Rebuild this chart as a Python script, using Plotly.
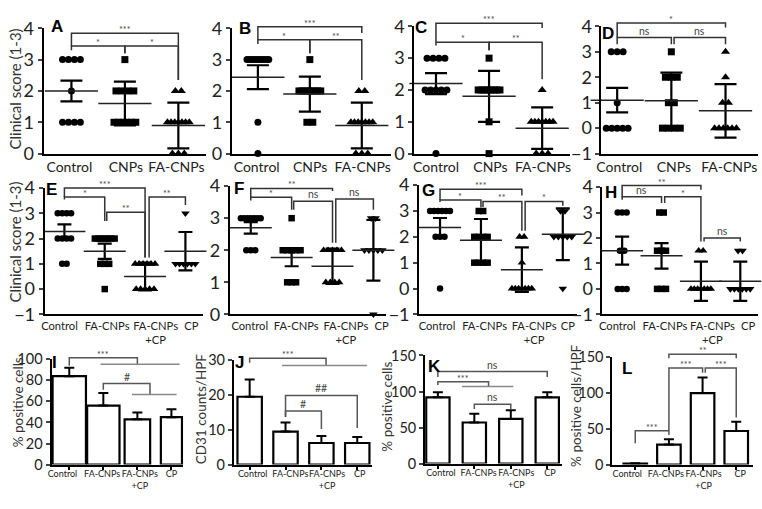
import plotly.graph_objects as go

W, H = 762, 509
FONT = "Lato"

# ---------------- data ----------------
row1_groups = ["Control", "CNPs", "FA-CNPs"]
row2_groups = ["Control", "FA-CNPs", "FA-CNPs<br>+CP", "CP"]
score4_ticks = [0, 1, 2, 3, 4]
score5_ticks = [-1, 0, 1, 2, 3, 4]

a_control = [3, 3, 3, 3, 2, 1, 1, 1, 1]
a_cnps = [3, 2, 2, 2, 2, 1, 1, 1, 1, 1, 1]
a_facnps = [2, 2, 1, 1, 1, 1, 1, 1, 1, 0, 0, 0]
a_mean = [2.0, 1.6, 0.9]
a_err = [0.33, 0.7, 0.73]

b_control = [3, 3, 3, 3, 3, 3, 3, 3, 3, 1, 0]
b_cnps = [3, 2, 2, 2, 2, 2, 2, 2, 2, 1, 1]
b_facnps = [2, 2, 1, 1, 1, 1, 1, 1, 1, 0, 0, 0]
b_mean = [2.44, 1.9, 0.9]
b_err = [0.38, 0.56, 0.73]

c_control = [3, 3, 3, 3, 2, 2, 2, 2, 2, 0]
c_cnps = [3, 2, 2, 2, 2, 2, 2, 2, 2, 1, 0]
c_facnps = [2, 1, 1, 1, 1, 1, 1, 1, 0, 0, 0]
c_mean = [2.2, 1.8, 0.8]
c_err = [0.33, 0.8, 0.65]

d_control = [3, 3, 3, 1, 0, 0, 0, 0, 0]
d_cnps = [3, 2, 2, 2, 1, 1, 0, 0, 0, 0]
d_facnps = [3, 2, 1, 1, 0, 0, 0, 0, 0, 0]
d_mean = [1.1, 1.08, 0.68]
d_err = [0.48, 1.1, 1.05]

e_control = [3, 3, 3, 3, 2, 2, 2, 2, 1, 1]
e_facnps = [2, 2, 2, 2, 2, 2, 2, 1, 1, 1, 0]
e_facnps_cp = [1, 1, 1, 1, 1, 1, 0, 0, 0, 0, 0]
e_cp = [3, 1, 1, 1, 1, 1, 1]
e_mean = [2.28, 1.5, 0.5, 1.5]
e_err = [0.28, 0.3, 0.55, 0.76]

f_control = [3, 3, 3, 3, 3, 3, 3, 2, 2, 2]
f_facnps = [3, 2, 2, 2, 2, 2, 1, 1, 1]
f_facnps_cp = [2, 2, 2, 2, 2, 1, 1, 1, 1]
f_cp = [3, 3, 2, 2, 2, 2, 2, 0]
f_mean = [2.7, 1.77, 1.5, 2.0]
f_err = [0.18, 0.27, 0.55, 0.95]

g_control = [3, 3, 3, 3, 3, 3, 2, 2, 2, 0]
g_facnps = [3, 3, 2, 2, 2, 2, 1, 1, 1, 1]
g_facnps_cp = [2, 2, 1, 0, 0, 0, 0, 0, 0, 0]
g_cp = [3, 3, 2, 2, 2, 2, 2, 0]
g_mean = [2.36, 1.87, 0.73, 2.1]
g_err = [0.37, 0.82, 0.86, 1.0]

h_control = [3, 3, 3, 1.5, 1.5, 0, 0, 0]
h_facnps = [3, 3, 1.5, 1.5, 1.5, 0, 0, 0]
h_facnps_cp = [1.5, 1.5, 0, 0, 0, 0, 0, 0, 0]
h_cp = [1.5, 1.5, 0, 0, 0, 0, 0, 0]
h_mean = [1.5, 1.3, 0.3, 0.3]
h_err = [0.55, 0.5, 0.77, 0.77]

i_values = [84, 56, 43, 45]
i_err = [8, 12, 6.5, 7.5]
i_ticks = [0, 20, 40, 60, 80, 100]

j_values = [19.5, 9.5, 6.2, 6.2]
j_err = [5, 2.6, 2, 1.7]
j_ticks = [0, 10, 20, 30]

k_values = [92, 57, 62, 92]
k_err = [7, 12, 12, 7]
k_ticks = [0, 50, 100, 150]

l_values = [1.5, 28, 100, 47]
l_err = [0.5, 7.5, 22, 13]
l_ticks = [0, 50, 100, 150]

# significance brackets: (x_left, x_right, height, left end, right end, label)
a_br = [(0, 2, 3.84, 3.43, 2.35, "***"), (0, 1, 3.43, 3.3, 3.2, "*"), (1, 2, 3.43, 3.2, 2.35, "*")]
b_br = [(0, 2, 4.05, 3.63, 3.85, "***"), (0, 1, 3.63, 3.5, 3.2, "*"), (1, 2, 3.63, 3.2, 2.35, "**")]
c_br = [(0, 2, 4.1, 3.5, 3.95, "***"), (0, 1, 3.5, 3.4, 3.25, "*"), (1, 2, 3.5, 3.25, 2.34, "**")]
d_br = [(0, 2, 4.13, 3.56, 3.95, "*"), (0, 1, 3.56, 3.3, 3.3, "ns"), (1.05, 2, 3.56, 3.3, 3.3, "ns")]
e_br = [(0, 2, 4.0, 3.65, 1.25, "***"), (0, 1, 3.65, 3.55, 2.7, "*"),
        (1.05, 2, 3.04, 2.7, 1.25, "**"), (2.1, 3, 3.65, 1.25, 3.33, "**")]
f_br = [(0, 2, 3.93, 3.65, 3.85, "**"), (0, 1, 3.65, 3.55, 3.26, "*"),
        (1.05, 2, 3.53, 3.26, 2.23, "ns"), (2.08, 3, 3.6, 2.23, 3.26, "ns")]
g_br = [(0, 2, 3.84, 3.43, 3.6, "***"), (0, 1, 3.43, 3.35, 3.16, "*"),
        (1.05, 2, 3.37, 3.16, 2.24, "**"), (2.08, 3, 3.37, 2.24, 3.2, "*")]
h_br = [(0, 2, 4.06, 3.62, 3.9, "**"), (0, 1, 3.62, 3.5, 3.37, "ns"),
        (1.08, 2, 3.62, 3.37, 1.86, "*"), (2.08, 3, 2.0, 1.86, 1.86, "ns")]
i_br = [(0, 2, 101.5, 94, 95.4, "***"), (1, 2.37, 77, 71, 66.5, "#")]
j_br = [(0, 2.13, 30.6, 29.3, 28.5, "***"), (1, 3, 19.9, 13.7, 10.5, "##"), (1, 2, 15.4, 13.7, 10.2, "#")]
k_br = [(0, 3, 127.7, 120, 120, "ns"), (0, 1.39, 113.5, 109, 107, "***"), (1, 2, 82.3, 75.7, 75.7, "ns")]
l_br = [(1, 3, 154.5, 148.7, 148.7, "**"), (1, 2, 135, 48, 128.5, "***"),
        (2.08, 3, 135, 128.5, 66, "***"), (0, 1, 47.3, 30, 41.5, "***")]
# group lines that the brackets point at: (x_left, x_right, height)
i_span = [(0.92, 3.24, 95.4), (1.84, 3.15, 66.5)]
j_span = [(0.9, 3.27, 28.5)]
k_span = [(0.66, 2.07, 107)]

# ---------------- panels ----------------
# box = (left px, right px, top px, bottom px); xl = tick label centres in px
panels = [
    dict(tag="A", row=1, groups=row1_groups, data=[a_control, a_cnps, a_facnps], mean=a_mean, err=a_err,
         box=(39, 203, 17, 148), xr=(-0.52, 2.52), yr=(0, 4), yt=score4_ticks, br=a_br, lab=(52, 15),
         xl=(65, 122, 173)),
    dict(tag="B", row=1, groups=row1_groups, data=[b_control, b_cnps, b_facnps], mean=b_mean, err=b_err,
         box=(229, 390, 17, 148), xr=(-0.5, 2.57), yr=(0, 4), yt=score4_ticks, br=b_br, lab=(242, 17),
         xl=(254, 308, 361)),
    dict(tag="C", row=1, groups=row1_groups, data=[c_control, c_cnps, c_facnps], mean=c_mean, err=c_err,
         box=(413, 570, 15, 148), xr=(-0.41, 2.52), yr=(0, 4), yt=score4_ticks, br=c_br, lab=(420, 16),
         xl=(435, 490, 543)),
    dict(tag="D", row=1, groups=row1_groups, data=[d_control, d_cnps, d_facnps], mean=d_mean, err=d_err,
         box=(602, 760, 15, 148), xr=(-0.29, 2.6), yr=(-1, 4), yt=score5_ticks, br=d_br, lab=(609, 22),
         xl=(620, 675, 731)),
    dict(tag="E", row=2, groups=row2_groups, data=[e_control, e_facnps, e_facnps_cp, e_cp], mean=e_mean, err=e_err,
         box=(40, 200, 184, 316), xr=(-0.49, 3.44), yr=(-1, 4), yt=score5_ticks, br=e_br, lab=(47, 186),
         xl=(55, 103, 152, 188)),
    dict(tag="F", row=2, groups=row2_groups, data=[f_control, f_facnps, f_facnps_cp, f_cp], mean=f_mean, err=f_err,
         box=(227, 385, 182, 316), xr=(-0.51, 3.32), yr=(0, 4), yt=score4_ticks, br=f_br, lab=(236, 184),
         xl=(247, 294, 344, 380)),
    dict(tag="G", row=2, groups=row2_groups, data=[g_control, g_facnps, g_facnps_cp, g_cp], mean=g_mean, err=g_err,
         box=(418, 577, 181, 316), xr=(-0.51, 3.34), yr=(-1, 4), yt=score5_ticks, br=g_br, lab=(427, 187),
         xl=(436, 484, 534, 568)),
    dict(tag="H", row=2, groups=row2_groups, data=[h_control, h_facnps, h_facnps_cp, h_cp], mean=h_mean, err=h_err,
         box=(603, 760, 183, 316), xr=(-0.5, 3.45), yr=(-1, 4), yt=score5_ticks, br=h_br, lab=(612, 189),
         xl=(618, 666, 714, 750)),
    dict(tag="I", row=3, groups=row2_groups, data=i_values, err=i_err, bw=[0.98, 0.95, 0.75, 0.62],
         box=(47, 180, 363, 473), xr=(-0.52, 3.35), yr=(0, 100), yt=i_ticks, br=i_br, span=i_span, lab=(50, 366),
         xl=(58, 98, 136, 168)),
    dict(tag="J", row=3, groups=row2_groups, data=j_values, err=j_err, bw=0.68,
         box=(231, 370, 364, 473), xr=(-0.44, 3.4), yr=(0, 30), yt=j_ticks, br=j_br, span=j_span, lab=(237, 366),
         xl=(250, 288, 325, 358)),
    dict(tag="K", row=3, groups=row2_groups, data=k_values, err=k_err, bw=0.64,
         box=(424, 562, 359, 472), xr=(-0.35, 3.4), yr=(0, 150), yt=k_ticks, br=k_br, span=k_span, lab=(433, 370),
         xl=(440, 478, 516, 550)),
    dict(tag="L", row=3, groups=row2_groups, data=l_values, err=l_err, bw=0.7,
         box=(613, 755, 361, 473), xr=(-0.68, 3.5), yr=(0, 150), yt=l_ticks, br=l_br, lab=(628, 373),
         xl=(628, 667, 705, 742)),
]

STYLE = {
    1: dict(step=6, span=22, size=7, mean_len=38, cap=11, xfont=14, yfont=18),
    2: dict(step=4.5, span=20, size=6.5, mean_len=30, cap=7, xfont=11.2, yfont=18),
    3: dict(xfont=9, yfont=14.5),
}
SYMBOLS = ["circle", "square", "triangle-up", "triangle-down"]


def spread(values, center, step, width):
    counts = {}
    for v in values:
        counts[v] = counts.get(v, 0) + 1
    seen, xs = {}, []
    for v in values:
        k = counts[v]
        i = seen.get(v, 0)
        seen[v] = i + 1
        s = step if k < 2 else min(step, width / (k - 1))
        xs.append(center + (i - (k - 1) / 2) * s)
    return xs


def to_paper(p, x, y):
    x0, x1, yt, yb = p["box"]
    xr, yr = p["xr"], p["yr"]
    px = x0 + (x - xr[0]) / (xr[1] - xr[0]) * (x1 - x0)
    py = yb - (y - yr[0]) / (yr[1] - yr[0]) * (yb - yt)
    return px / W, 1 - py / H


fig = go.Figure()
shapes, annotations = [], []

for k, p in enumerate(panels, start=1):
    xa = "x" if k == 1 else f"x{k}"
    ya = "y" if k == 1 else f"y{k}"
    st = STYLE[p["row"]]
    x0, x1, yt, yb = p["box"]
    ppu = (x1 - x0) / (p["xr"][1] - p["xr"][0])
    n = len(p["groups"])
    label_pos = [p["xr"][0] + (px - x0) / ppu for px in p["xl"]]

    if p["row"] < 3:
        for g, vals in enumerate(p["data"]):
            fig.add_trace(go.Scatter(
                x=spread(vals, g, st["step"] / ppu, st["span"] / ppu), y=vals,
                xaxis=xa, yaxis=ya, mode="markers", cliponaxis=False,
                marker=dict(symbol=SYMBOLS[g], size=st["size"] + (1 if g > 1 else 0), color="black"),
                showlegend=False, hoverinfo="skip"))
        fig.add_trace(go.Scatter(
            x=list(range(n)), y=p["mean"], xaxis=xa, yaxis=ya, mode="markers", cliponaxis=False,
            marker=dict(symbol="line-ew-open", size=st["mean_len"], color="#222",
                        line=dict(width=1.5, color="#222")),
            error_y=dict(type="data", array=p["err"], width=st["cap"], thickness=2.2, color="black"),
            showlegend=False, hoverinfo="skip"))
        line_color = "#333"
    else:
        fig.add_trace(go.Bar(
            x=list(range(n)), y=p["data"], width=p["bw"], xaxis=xa, yaxis=ya, cliponaxis=False,
            marker=dict(color="white", line=dict(color="black", width=2.2)),
            error_y=dict(type="data", symmetric=False, array=p["err"], arrayminus=[0] * n,
                         width=5, thickness=2, color="black"),
            showlegend=False, hoverinfo="skip"))
        line_color = "#555"

    xaxis = dict(
        domain=[x0 / W, x1 / W], anchor=ya, range=list(p["xr"]),
        tickvals=label_pos, ticktext=p["groups"], tickangle=0, ticks="",
        showline=True, linecolor="black", linewidth=2,
        tickfont=dict(family=FONT, size=st["xfont"], color="#222"),
        showgrid=False, zeroline=False, fixedrange=True)
    if p["row"] == 3:
        xaxis["minor"] = dict(tickvals=list(range(n)), ticks="outside", ticklen=3, tickwidth=1.5,
                              tickcolor="black", showgrid=False)
    fig.update_layout(**{
        ("xaxis" if k == 1 else f"xaxis{k}"): xaxis,
        ("yaxis" if k == 1 else f"yaxis{k}"): dict(
            domain=[1 - yb / H, 1 - yt / H], anchor=xa, range=list(p["yr"]),
            tickvals=p["yt"], showline=True, linecolor="black", linewidth=2,
            ticks="outside", ticklen=4, tickwidth=1.5,
            tickfont=dict(family=FONT, size=st["yfont"], color="#222"),
            showgrid=False, zeroline=False, fixedrange=True),
    })

    for bx0, bx1, h, e0, e1, label in p["br"]:
        pts = [to_paper(p, bx0, e0), to_paper(p, bx0, h), to_paper(p, bx1, h), to_paper(p, bx1, e1)]
        path = "M " + " L ".join(f"{u:.5f},{v:.5f}" for u, v in pts)
        shapes.append(dict(type="path", path=path, xref="paper", yref="paper",
                           line=dict(color=line_color, width=1.5)))
        ux, uy = to_paper(p, (bx0 + bx1) / 2, h)
        annotations.append(dict(x=ux, y=uy, xref="paper", yref="paper", text=label, showarrow=False,
                                xanchor="center", yanchor="bottom", yshift=-4 if "*" in label else -1,
                                font=dict(family=FONT, size=9 if "*" in label else 10.5, color="#444")))
    for sx0, sx1, h in p.get("span", []):
        u0, v0 = to_paper(p, sx0, h)
        u1, v1 = to_paper(p, sx1, h)
        shapes.append(dict(type="line", x0=u0, x1=u1, y0=v0, y1=v1, xref="paper", yref="paper",
                           line=dict(color="#888", width=1.5)))

    lx, ly = p["lab"]
    annotations.append(dict(x=lx / W, y=1 - ly / H, xref="paper", yref="paper", text=f"<b>{p['tag']}</b>",
                            showarrow=False, xanchor="center", yanchor="middle",
                            font=dict(family="Liberation Sans", size=17, color="black")))

# y-axis titles
for text, px, py, size in [("Clinical score (1-3)", 10, 80, 15), ("Clinical score (1-3)", 10, 240, 15),
                           ("% positive cells", 13, 408, 13.5), ("CD31 counts/HPF", 198, 415, 13.5),
                           ("% positive cells", 386, 412, 13.5), ("% positive cells/HPF", 576, 412, 13.5)]:
    annotations.append(dict(x=px / W, y=1 - py / H, xref="paper", yref="paper", text=text, textangle=-90,
                            showarrow=False, xanchor="center", yanchor="middle",
                            font=dict(family=FONT, size=size, color="#333")))

fig.update_layout(
    width=W, height=H,
    margin=dict(l=0, r=0, t=0, b=0),
    paper_bgcolor="white", plot_bgcolor="white",
    shapes=shapes, annotations=annotations,
    font=dict(family=FONT),
)

# drop the page's default body margin so the figure starts at the window corner
fig.write_html("out.html", config={"displayModeBar": False},
               post_script="document.body.style.margin='0';document.body.style.overflow='hidden';")
